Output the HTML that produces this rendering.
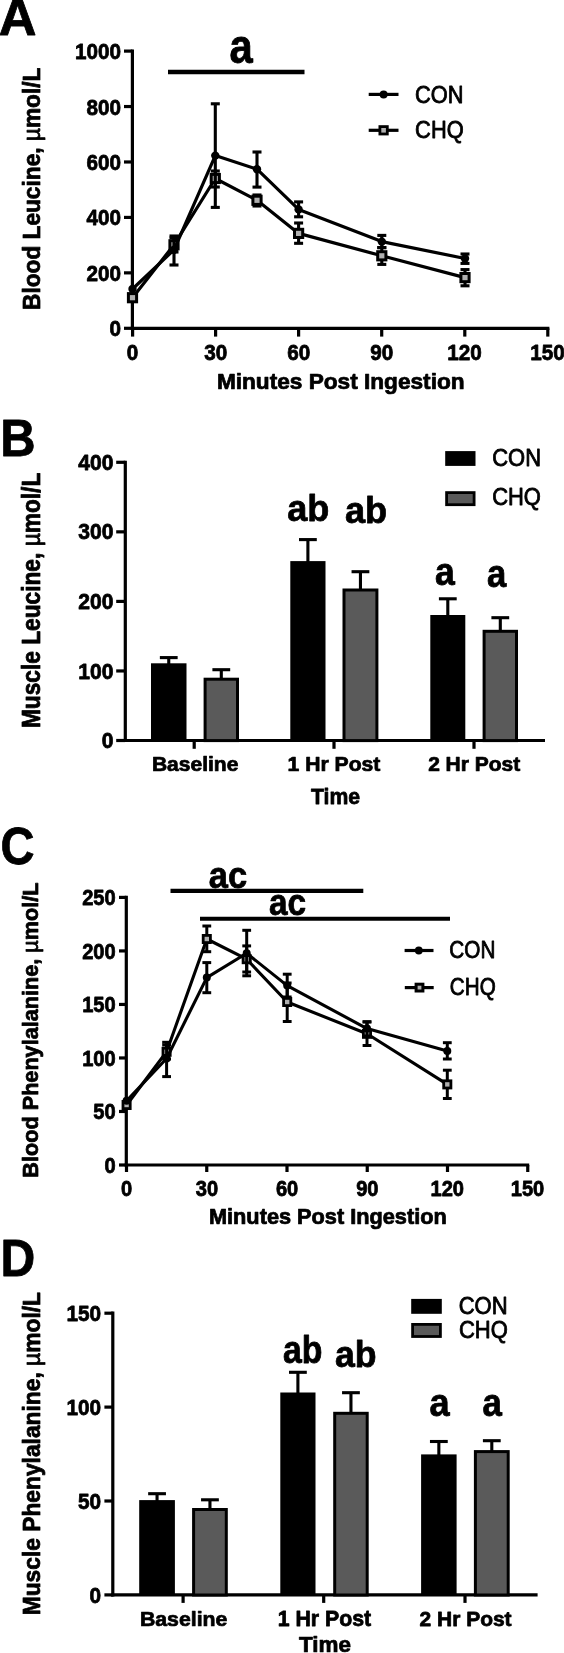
<!DOCTYPE html>
<html><head><meta charset="utf-8"><title>Figure</title>
<style>
html,body{margin:0;padding:0;background:#fff;}
body{width:564px;height:1653px;overflow:hidden;font-family:"Liberation Sans",sans-serif;}
svg{display:block;will-change:transform;filter:grayscale(1);}
svg text{font-family:"Liberation Sans",sans-serif;fill:#000;}
</style></head><body>
<svg width="564" height="1653" viewBox="0 0 564 1653">
<rect x="0" y="0" width="564" height="1653" fill="#fff"/>
<text transform="translate(-1.23 35.00) scale(0.5231 0.5207)" font-size="100" stroke="#000" stroke-linejoin="round" xml:space="preserve"><tspan font-weight="bold" stroke-width="1.44">A</tspan></text>
<line x1="132.40" y1="49.50" x2="132.40" y2="329.90" stroke="#000" stroke-width="3.2" stroke-linecap="butt"/>
<line x1="130.80" y1="328.30" x2="549.40" y2="328.30" stroke="#000" stroke-width="3.2" stroke-linecap="butt"/>
<text transform="translate(74.93 58.90) scale(0.2068 0.2189)" font-size="100" stroke="#000" stroke-linejoin="round" xml:space="preserve"><tspan font-weight="bold" stroke-width="3.52">1000</tspan></text>
<line x1="124.00" y1="51.10" x2="132.40" y2="51.10" stroke="#000" stroke-width="3.2" stroke-linecap="butt"/>
<line x1="124.00" y1="106.54" x2="132.40" y2="106.54" stroke="#000" stroke-width="3.2" stroke-linecap="butt"/>
<text transform="translate(86.51 114.54) scale(0.2068 0.2175)" font-size="100" stroke="#000" stroke-linejoin="round" xml:space="preserve"><tspan font-weight="bold" stroke-width="3.53">800</tspan></text>
<line x1="124.00" y1="161.98" x2="132.40" y2="161.98" stroke="#000" stroke-width="3.2" stroke-linecap="butt"/>
<text transform="translate(86.51 169.98) scale(0.2068 0.2175)" font-size="100" stroke="#000" stroke-linejoin="round" xml:space="preserve"><tspan font-weight="bold" stroke-width="3.53">600</tspan></text>
<line x1="124.00" y1="217.42" x2="132.40" y2="217.42" stroke="#000" stroke-width="3.2" stroke-linecap="butt"/>
<text transform="translate(86.51 225.42) scale(0.2068 0.2175)" font-size="100" stroke="#000" stroke-linejoin="round" xml:space="preserve"><tspan font-weight="bold" stroke-width="3.53">400</tspan></text>
<line x1="124.00" y1="272.86" x2="132.40" y2="272.86" stroke="#000" stroke-width="3.2" stroke-linecap="butt"/>
<text transform="translate(86.51 280.86) scale(0.2068 0.2175)" font-size="100" stroke="#000" stroke-linejoin="round" xml:space="preserve"><tspan font-weight="bold" stroke-width="3.53">200</tspan></text>
<line x1="124.00" y1="328.30" x2="132.40" y2="328.30" stroke="#000" stroke-width="3.2" stroke-linecap="butt"/>
<text transform="translate(109.47 336.30) scale(0.2068 0.2175)" font-size="100" stroke="#000" stroke-linejoin="round" xml:space="preserve"><tspan font-weight="bold" stroke-width="3.53">0</tspan></text>
<line x1="132.60" y1="328.30" x2="132.60" y2="336.60" stroke="#000" stroke-width="3.2" stroke-linecap="butt"/>
<text transform="translate(126.86 359.90) scale(0.2068 0.2175)" font-size="100" stroke="#000" stroke-linejoin="round" xml:space="preserve"><tspan font-weight="bold" stroke-width="3.53">0</tspan></text>
<line x1="215.60" y1="328.30" x2="215.60" y2="336.60" stroke="#000" stroke-width="3.2" stroke-linecap="butt"/>
<text transform="translate(204.28 359.90) scale(0.2068 0.2175)" font-size="100" stroke="#000" stroke-linejoin="round" xml:space="preserve"><tspan font-weight="bold" stroke-width="3.53">30</tspan></text>
<line x1="298.60" y1="328.30" x2="298.60" y2="336.60" stroke="#000" stroke-width="3.2" stroke-linecap="butt"/>
<text transform="translate(287.17 359.90) scale(0.2068 0.2175)" font-size="100" stroke="#000" stroke-linejoin="round" xml:space="preserve"><tspan font-weight="bold" stroke-width="3.53">60</tspan></text>
<line x1="381.70" y1="328.30" x2="381.70" y2="336.60" stroke="#000" stroke-width="3.2" stroke-linecap="butt"/>
<text transform="translate(370.27 359.90) scale(0.2068 0.2175)" font-size="100" stroke="#000" stroke-linejoin="round" xml:space="preserve"><tspan font-weight="bold" stroke-width="3.53">90</tspan></text>
<line x1="464.80" y1="328.30" x2="464.80" y2="336.60" stroke="#000" stroke-width="3.2" stroke-linecap="butt"/>
<text transform="translate(447.32 359.90) scale(0.2068 0.2175)" font-size="100" stroke="#000" stroke-linejoin="round" xml:space="preserve"><tspan font-weight="bold" stroke-width="3.53">120</tspan></text>
<line x1="547.80" y1="328.30" x2="547.80" y2="336.60" stroke="#000" stroke-width="3.2" stroke-linecap="butt"/>
<text transform="translate(530.32 359.90) scale(0.2068 0.2175)" font-size="100" stroke="#000" stroke-linejoin="round" xml:space="preserve"><tspan font-weight="bold" stroke-width="3.53">150</tspan></text>
<text transform="translate(216.90 388.90) scale(0.2265 0.2169)" font-size="100" stroke="#000" stroke-linejoin="round" xml:space="preserve"><tspan font-weight="bold" stroke-width="3.38">Minutes Post Ingestion</tspan></text>
<text transform="translate(39.90 310.00) rotate(-90) scale(0.2270 0.2321)" font-size="100" stroke="#000" stroke-linejoin="round" xml:space="preserve"><tspan font-weight="bold" stroke-width="3.27">Blood Leucine, </tspan><tspan font-weight="normal" stroke-width="3.49">&#181;</tspan><tspan font-weight="bold" stroke-width="3.27">mol/L</tspan></text>
<line x1="168.00" y1="72.00" x2="304.50" y2="72.00" stroke="#000" stroke-width="4.3" stroke-linecap="butt"/>
<text transform="translate(229.62 63.45) scale(0.4178 0.4718)" font-size="100" stroke="#000" stroke-linejoin="round" xml:space="preserve"><tspan font-weight="bold" stroke-width="1.69">a</tspan></text>
<line x1="368.70" y1="94.40" x2="398.50" y2="94.40" stroke="#000" stroke-width="3.2" stroke-linecap="butt"/>
<circle cx="383.6" cy="94.4" r="4.0" fill="#000"/>
<line x1="368.70" y1="130.30" x2="398.50" y2="130.30" stroke="#000" stroke-width="3.2" stroke-linecap="butt"/>
<rect x="379.90" y="126.60" width="7.40" height="7.40" fill="#b0b0b0" stroke="#000" stroke-width="2.8"/>
<text transform="translate(415.11 102.80) scale(0.2182 0.2400)" font-size="100" stroke="#000" stroke-linejoin="round" xml:space="preserve"><tspan font-weight="normal" stroke-width="3.49">CON</tspan></text>
<text transform="translate(415.11 137.60) scale(0.2184 0.2400)" font-size="100" stroke="#000" stroke-linejoin="round" xml:space="preserve"><tspan font-weight="normal" stroke-width="3.49">CHQ</tspan></text>
<polyline fill="none" stroke="#000" stroke-width="3.2" stroke-linejoin="round" points="132.5,297.7 174,244.8 215.3,178.5 257,200.3 298.6,233.4 381.8,255.8 465,277.6"/>
<line x1="174.00" y1="238.00" x2="174.00" y2="252.00" stroke="#000" stroke-width="3.1" stroke-linecap="butt"/>
<line x1="169.50" y1="238.00" x2="178.50" y2="238.00" stroke="#000" stroke-width="3.1" stroke-linecap="butt"/>
<line x1="169.50" y1="252.00" x2="178.50" y2="252.00" stroke="#000" stroke-width="3.1" stroke-linecap="butt"/>
<line x1="215.30" y1="171.00" x2="215.30" y2="187.00" stroke="#000" stroke-width="3.1" stroke-linecap="butt"/>
<line x1="210.80" y1="171.00" x2="219.80" y2="171.00" stroke="#000" stroke-width="3.1" stroke-linecap="butt"/>
<line x1="210.80" y1="187.00" x2="219.80" y2="187.00" stroke="#000" stroke-width="3.1" stroke-linecap="butt"/>
<line x1="257.00" y1="195.00" x2="257.00" y2="206.00" stroke="#000" stroke-width="3.1" stroke-linecap="butt"/>
<line x1="252.50" y1="195.00" x2="261.50" y2="195.00" stroke="#000" stroke-width="3.1" stroke-linecap="butt"/>
<line x1="252.50" y1="206.00" x2="261.50" y2="206.00" stroke="#000" stroke-width="3.1" stroke-linecap="butt"/>
<line x1="298.60" y1="223.00" x2="298.60" y2="243.30" stroke="#000" stroke-width="3.1" stroke-linecap="butt"/>
<line x1="294.10" y1="223.00" x2="303.10" y2="223.00" stroke="#000" stroke-width="3.1" stroke-linecap="butt"/>
<line x1="294.10" y1="243.30" x2="303.10" y2="243.30" stroke="#000" stroke-width="3.1" stroke-linecap="butt"/>
<line x1="381.80" y1="247.60" x2="381.80" y2="264.40" stroke="#000" stroke-width="3.1" stroke-linecap="butt"/>
<line x1="377.30" y1="247.60" x2="386.30" y2="247.60" stroke="#000" stroke-width="3.1" stroke-linecap="butt"/>
<line x1="377.30" y1="264.40" x2="386.30" y2="264.40" stroke="#000" stroke-width="3.1" stroke-linecap="butt"/>
<line x1="465.00" y1="269.60" x2="465.00" y2="285.80" stroke="#000" stroke-width="3.1" stroke-linecap="butt"/>
<line x1="460.50" y1="269.60" x2="469.50" y2="269.60" stroke="#000" stroke-width="3.1" stroke-linecap="butt"/>
<line x1="460.50" y1="285.80" x2="469.50" y2="285.80" stroke="#000" stroke-width="3.1" stroke-linecap="butt"/>
<rect x="128.40" y="293.60" width="8.20" height="8.20" fill="#b0b0b0" stroke="#000" stroke-width="3"/>
<rect x="169.90" y="240.70" width="8.20" height="8.20" fill="#b0b0b0" stroke="#000" stroke-width="3"/>
<rect x="211.20" y="174.40" width="8.20" height="8.20" fill="#b0b0b0" stroke="#000" stroke-width="3"/>
<rect x="252.90" y="196.20" width="8.20" height="8.20" fill="#b0b0b0" stroke="#000" stroke-width="3"/>
<rect x="294.50" y="229.30" width="8.20" height="8.20" fill="#b0b0b0" stroke="#000" stroke-width="3"/>
<rect x="377.70" y="251.70" width="8.20" height="8.20" fill="#b0b0b0" stroke="#000" stroke-width="3"/>
<rect x="460.90" y="273.50" width="8.20" height="8.20" fill="#b0b0b0" stroke="#000" stroke-width="3"/>
<polyline fill="none" stroke="#000" stroke-width="3.2" stroke-linejoin="round" points="132.5,289 174,249.8 215.3,155.6 257,169.2 298.6,209.4 381.8,241.6 465,258.5"/>
<line x1="174.00" y1="236.00" x2="174.00" y2="265.00" stroke="#000" stroke-width="3.1" stroke-linecap="butt"/>
<line x1="169.50" y1="236.00" x2="178.50" y2="236.00" stroke="#000" stroke-width="3.1" stroke-linecap="butt"/>
<line x1="169.50" y1="265.00" x2="178.50" y2="265.00" stroke="#000" stroke-width="3.1" stroke-linecap="butt"/>
<line x1="215.30" y1="103.80" x2="215.30" y2="207.40" stroke="#000" stroke-width="3.1" stroke-linecap="butt"/>
<line x1="210.80" y1="103.80" x2="219.80" y2="103.80" stroke="#000" stroke-width="3.1" stroke-linecap="butt"/>
<line x1="210.80" y1="207.40" x2="219.80" y2="207.40" stroke="#000" stroke-width="3.1" stroke-linecap="butt"/>
<line x1="257.00" y1="152.00" x2="257.00" y2="187.10" stroke="#000" stroke-width="3.1" stroke-linecap="butt"/>
<line x1="252.50" y1="152.00" x2="261.50" y2="152.00" stroke="#000" stroke-width="3.1" stroke-linecap="butt"/>
<line x1="252.50" y1="187.10" x2="261.50" y2="187.10" stroke="#000" stroke-width="3.1" stroke-linecap="butt"/>
<line x1="298.60" y1="201.90" x2="298.60" y2="216.80" stroke="#000" stroke-width="3.1" stroke-linecap="butt"/>
<line x1="294.10" y1="201.90" x2="303.10" y2="201.90" stroke="#000" stroke-width="3.1" stroke-linecap="butt"/>
<line x1="294.10" y1="216.80" x2="303.10" y2="216.80" stroke="#000" stroke-width="3.1" stroke-linecap="butt"/>
<line x1="381.80" y1="235.40" x2="381.80" y2="247.60" stroke="#000" stroke-width="3.1" stroke-linecap="butt"/>
<line x1="377.30" y1="235.40" x2="386.30" y2="235.40" stroke="#000" stroke-width="3.1" stroke-linecap="butt"/>
<line x1="377.30" y1="247.60" x2="386.30" y2="247.60" stroke="#000" stroke-width="3.1" stroke-linecap="butt"/>
<line x1="465.00" y1="254.00" x2="465.00" y2="263.40" stroke="#000" stroke-width="3.1" stroke-linecap="butt"/>
<line x1="460.50" y1="254.00" x2="469.50" y2="254.00" stroke="#000" stroke-width="3.1" stroke-linecap="butt"/>
<line x1="460.50" y1="263.40" x2="469.50" y2="263.40" stroke="#000" stroke-width="3.1" stroke-linecap="butt"/>
<circle cx="132.5" cy="289" r="4.2" fill="#000"/>
<circle cx="174" cy="249.8" r="4.2" fill="#000"/>
<circle cx="215.3" cy="155.6" r="4.2" fill="#000"/>
<circle cx="257" cy="169.2" r="4.2" fill="#000"/>
<circle cx="298.6" cy="209.4" r="4.2" fill="#000"/>
<circle cx="381.8" cy="241.6" r="4.2" fill="#000"/>
<circle cx="465" cy="258.5" r="4.2" fill="#000"/>
<text transform="translate(0.29 455.80) scale(0.4893 0.5163)" font-size="100" stroke="#000" stroke-linejoin="round" xml:space="preserve"><tspan font-weight="bold" stroke-width="1.49">B</tspan></text>
<line x1="125.30" y1="460.70" x2="125.30" y2="742.10" stroke="#000" stroke-width="3.2" stroke-linecap="butt"/>
<line x1="123.70" y1="740.50" x2="545.00" y2="740.50" stroke="#000" stroke-width="3.2" stroke-linecap="butt"/>
<text transform="translate(78.36 469.80) scale(0.2109 0.2118)" font-size="100" stroke="#000" stroke-linejoin="round" xml:space="preserve"><tspan font-weight="bold" stroke-width="3.55">400</tspan></text>
<line x1="116.20" y1="462.30" x2="125.30" y2="462.30" stroke="#000" stroke-width="3.2" stroke-linecap="butt"/>
<line x1="116.20" y1="531.85" x2="125.30" y2="531.85" stroke="#000" stroke-width="3.2" stroke-linecap="butt"/>
<text transform="translate(78.36 539.45) scale(0.2109 0.2118)" font-size="100" stroke="#000" stroke-linejoin="round" xml:space="preserve"><tspan font-weight="bold" stroke-width="3.55">300</tspan></text>
<line x1="116.20" y1="601.40" x2="125.30" y2="601.40" stroke="#000" stroke-width="3.2" stroke-linecap="butt"/>
<text transform="translate(78.36 609.00) scale(0.2109 0.2118)" font-size="100" stroke="#000" stroke-linejoin="round" xml:space="preserve"><tspan font-weight="bold" stroke-width="3.55">200</tspan></text>
<line x1="116.20" y1="670.95" x2="125.30" y2="670.95" stroke="#000" stroke-width="3.2" stroke-linecap="butt"/>
<text transform="translate(78.36 678.55) scale(0.2109 0.2118)" font-size="100" stroke="#000" stroke-linejoin="round" xml:space="preserve"><tspan font-weight="bold" stroke-width="3.55">100</tspan></text>
<line x1="116.20" y1="740.50" x2="125.30" y2="740.50" stroke="#000" stroke-width="3.2" stroke-linecap="butt"/>
<text transform="translate(101.77 748.10) scale(0.2109 0.2118)" font-size="100" stroke="#000" stroke-linejoin="round" xml:space="preserve"><tspan font-weight="bold" stroke-width="3.55">0</tspan></text>
<line x1="194.20" y1="740.50" x2="194.20" y2="748.80" stroke="#000" stroke-width="3.2" stroke-linecap="butt"/>
<line x1="334.00" y1="740.50" x2="334.00" y2="748.80" stroke="#000" stroke-width="3.2" stroke-linecap="butt"/>
<line x1="474.00" y1="740.50" x2="474.00" y2="748.80" stroke="#000" stroke-width="3.2" stroke-linecap="butt"/>
<text transform="translate(151.91 771.40) scale(0.2103 0.1962)" font-size="100" stroke="#000" stroke-linejoin="round" xml:space="preserve"><tspan font-weight="bold" stroke-width="3.69">Baseline</tspan></text>
<text transform="translate(287.60 771.40) scale(0.2113 0.2004)" font-size="100" stroke="#000" stroke-linejoin="round" xml:space="preserve"><tspan font-weight="bold" stroke-width="3.64">1 Hr Post</tspan></text>
<text transform="translate(428.14 771.40) scale(0.2098 0.1975)" font-size="100" stroke="#000" stroke-linejoin="round" xml:space="preserve"><tspan font-weight="bold" stroke-width="3.68">2 Hr Post</tspan></text>
<text transform="translate(311.06 803.70) scale(0.2121 0.2252)" font-size="100" stroke="#000" stroke-linejoin="round" xml:space="preserve"><tspan font-weight="bold" stroke-width="3.43">Time</tspan></text>
<text transform="translate(40.40 728.10) rotate(-90) scale(0.2272 0.2500)" font-size="100" stroke="#000" stroke-linejoin="round" xml:space="preserve"><tspan font-weight="bold" stroke-width="3.14">Muscle Leucine, </tspan><tspan font-weight="normal" stroke-width="3.35">&#181;</tspan><tspan font-weight="bold" stroke-width="3.14">mol/L</tspan></text>
<line x1="168.75" y1="657.60" x2="168.75" y2="664.30" stroke="#000" stroke-width="3.1" stroke-linecap="butt"/>
<line x1="159.85" y1="657.60" x2="177.65" y2="657.60" stroke="#000" stroke-width="3.1" stroke-linecap="butt"/>
<rect x="151.00" y="663.30" width="35.50" height="77.20" fill="#000"/>
<line x1="221.30" y1="669.70" x2="221.30" y2="678.70" stroke="#000" stroke-width="3.1" stroke-linecap="butt"/>
<line x1="212.40" y1="669.70" x2="230.20" y2="669.70" stroke="#000" stroke-width="3.1" stroke-linecap="butt"/>
<rect x="205.10" y="679.20" width="32.40" height="61.40" fill="#5a5a5a" stroke="#000" stroke-width="3"/>
<line x1="307.90" y1="539.60" x2="307.90" y2="562.10" stroke="#000" stroke-width="3.1" stroke-linecap="butt"/>
<line x1="299.00" y1="539.60" x2="316.80" y2="539.60" stroke="#000" stroke-width="3.1" stroke-linecap="butt"/>
<rect x="290.30" y="561.10" width="35.20" height="179.40" fill="#000"/>
<line x1="360.45" y1="571.70" x2="360.45" y2="589.50" stroke="#000" stroke-width="3.1" stroke-linecap="butt"/>
<line x1="351.55" y1="571.70" x2="369.35" y2="571.70" stroke="#000" stroke-width="3.1" stroke-linecap="butt"/>
<rect x="344.00" y="590.00" width="32.90" height="150.60" fill="#5a5a5a" stroke="#000" stroke-width="3"/>
<line x1="447.80" y1="598.80" x2="447.80" y2="616.00" stroke="#000" stroke-width="3.1" stroke-linecap="butt"/>
<line x1="438.90" y1="598.80" x2="456.70" y2="598.80" stroke="#000" stroke-width="3.1" stroke-linecap="butt"/>
<rect x="430.30" y="615.00" width="35.00" height="125.50" fill="#000"/>
<line x1="500.30" y1="617.70" x2="500.30" y2="630.80" stroke="#000" stroke-width="3.1" stroke-linecap="butt"/>
<line x1="491.40" y1="617.70" x2="509.20" y2="617.70" stroke="#000" stroke-width="3.1" stroke-linecap="butt"/>
<rect x="484.10" y="631.30" width="32.40" height="109.30" fill="#5a5a5a" stroke="#000" stroke-width="3"/>
<text transform="translate(287.19 521.40) scale(0.3612 0.3645)" font-size="100" stroke="#000" stroke-linejoin="round" xml:space="preserve"><tspan font-weight="bold" stroke-width="2.07">ab</tspan></text>
<text transform="translate(344.99 522.90) scale(0.3621 0.3659)" font-size="100" stroke="#000" stroke-linejoin="round" xml:space="preserve"><tspan font-weight="bold" stroke-width="2.06">ab</tspan></text>
<text transform="translate(434.91 584.94) scale(0.3561 0.3882)" font-size="100" stroke="#000" stroke-linejoin="round" xml:space="preserve"><tspan font-weight="bold" stroke-width="2.02">a</tspan></text>
<text transform="translate(487.03 587.03) scale(0.3467 0.3918)" font-size="100" stroke="#000" stroke-linejoin="round" xml:space="preserve"><tspan font-weight="bold" stroke-width="2.03">a</tspan></text>
<rect x="445.20" y="451.10" width="30.30" height="14.80" fill="#000"/>
<rect x="446.60" y="492.60" width="27.50" height="12.10" fill="#5a5a5a" stroke="#000" stroke-width="2.8"/>
<text transform="translate(492.20 465.60) scale(0.2196 0.2329)" font-size="100" stroke="#000" stroke-linejoin="round" xml:space="preserve"><tspan font-weight="normal" stroke-width="3.54">CON</tspan></text>
<text transform="translate(492.20 505.40) scale(0.2193 0.2329)" font-size="100" stroke="#000" stroke-linejoin="round" xml:space="preserve"><tspan font-weight="normal" stroke-width="3.54">CHQ</tspan></text>
<text transform="translate(0.59 864.20) scale(0.4710 0.5232)" font-size="100" stroke="#000" stroke-linejoin="round" xml:space="preserve"><tspan font-weight="bold" stroke-width="1.51">C</tspan></text>
<line x1="126.30" y1="895.80" x2="126.30" y2="1166.60" stroke="#000" stroke-width="3.2" stroke-linecap="butt"/>
<line x1="124.70" y1="1165.00" x2="529.20" y2="1165.00" stroke="#000" stroke-width="3.2" stroke-linecap="butt"/>
<text transform="translate(82.17 905.40) scale(0.2009 0.2118)" font-size="100" stroke="#000" stroke-linejoin="round" xml:space="preserve"><tspan font-weight="bold" stroke-width="3.63">250</tspan></text>
<line x1="119.00" y1="897.40" x2="126.30" y2="897.40" stroke="#000" stroke-width="3.2" stroke-linecap="butt"/>
<line x1="119.00" y1="950.92" x2="126.30" y2="950.92" stroke="#000" stroke-width="3.2" stroke-linecap="butt"/>
<text transform="translate(82.17 958.92) scale(0.2009 0.2118)" font-size="100" stroke="#000" stroke-linejoin="round" xml:space="preserve"><tspan font-weight="bold" stroke-width="3.63">200</tspan></text>
<line x1="119.00" y1="1004.44" x2="126.30" y2="1004.44" stroke="#000" stroke-width="3.2" stroke-linecap="butt"/>
<text transform="translate(82.17 1012.44) scale(0.2009 0.2118)" font-size="100" stroke="#000" stroke-linejoin="round" xml:space="preserve"><tspan font-weight="bold" stroke-width="3.63">150</tspan></text>
<line x1="119.00" y1="1057.96" x2="126.30" y2="1057.96" stroke="#000" stroke-width="3.2" stroke-linecap="butt"/>
<text transform="translate(82.17 1065.96) scale(0.2009 0.2118)" font-size="100" stroke="#000" stroke-linejoin="round" xml:space="preserve"><tspan font-weight="bold" stroke-width="3.63">100</tspan></text>
<line x1="119.00" y1="1111.48" x2="126.30" y2="1111.48" stroke="#000" stroke-width="3.2" stroke-linecap="butt"/>
<text transform="translate(93.32 1119.48) scale(0.2009 0.2118)" font-size="100" stroke="#000" stroke-linejoin="round" xml:space="preserve"><tspan font-weight="bold" stroke-width="3.63">50</tspan></text>
<line x1="119.00" y1="1165.00" x2="126.30" y2="1165.00" stroke="#000" stroke-width="3.2" stroke-linecap="butt"/>
<text transform="translate(104.48 1173.00) scale(0.2009 0.2118)" font-size="100" stroke="#000" stroke-linejoin="round" xml:space="preserve"><tspan font-weight="bold" stroke-width="3.63">0</tspan></text>
<line x1="126.50" y1="1165.00" x2="126.50" y2="1172.00" stroke="#000" stroke-width="3.2" stroke-linecap="butt"/>
<text transform="translate(120.92 1195.70) scale(0.2009 0.2118)" font-size="100" stroke="#000" stroke-linejoin="round" xml:space="preserve"><tspan font-weight="bold" stroke-width="3.63">0</tspan></text>
<line x1="206.75" y1="1165.00" x2="206.75" y2="1172.00" stroke="#000" stroke-width="3.2" stroke-linecap="butt"/>
<text transform="translate(195.75 1195.70) scale(0.2009 0.2118)" font-size="100" stroke="#000" stroke-linejoin="round" xml:space="preserve"><tspan font-weight="bold" stroke-width="3.63">30</tspan></text>
<line x1="287.00" y1="1165.00" x2="287.00" y2="1172.00" stroke="#000" stroke-width="3.2" stroke-linecap="butt"/>
<text transform="translate(275.90 1195.70) scale(0.2009 0.2118)" font-size="100" stroke="#000" stroke-linejoin="round" xml:space="preserve"><tspan font-weight="bold" stroke-width="3.63">60</tspan></text>
<line x1="367.25" y1="1165.00" x2="367.25" y2="1172.00" stroke="#000" stroke-width="3.2" stroke-linecap="butt"/>
<text transform="translate(356.15 1195.70) scale(0.2009 0.2118)" font-size="100" stroke="#000" stroke-linejoin="round" xml:space="preserve"><tspan font-weight="bold" stroke-width="3.63">90</tspan></text>
<line x1="447.50" y1="1165.00" x2="447.50" y2="1172.00" stroke="#000" stroke-width="3.2" stroke-linecap="butt"/>
<text transform="translate(430.52 1195.70) scale(0.2009 0.2118)" font-size="100" stroke="#000" stroke-linejoin="round" xml:space="preserve"><tspan font-weight="bold" stroke-width="3.63">120</tspan></text>
<line x1="527.75" y1="1165.00" x2="527.75" y2="1172.00" stroke="#000" stroke-width="3.2" stroke-linecap="butt"/>
<text transform="translate(510.77 1195.70) scale(0.2009 0.2118)" font-size="100" stroke="#000" stroke-linejoin="round" xml:space="preserve"><tspan font-weight="bold" stroke-width="3.63">150</tspan></text>
<text transform="translate(208.96 1223.80) scale(0.2174 0.2128)" font-size="100" stroke="#000" stroke-linejoin="round" xml:space="preserve"><tspan font-weight="bold" stroke-width="3.49">Minutes Post Ingestion</tspan></text>
<text transform="translate(37.70 1177.63) rotate(-90) scale(0.2165 0.2155)" font-size="100" stroke="#000" stroke-linejoin="round" xml:space="preserve"><tspan font-weight="bold" stroke-width="3.47">Blood Phenylalanine, </tspan><tspan font-weight="normal" stroke-width="3.70">&#181;</tspan><tspan font-weight="bold" stroke-width="3.47">mol/L</tspan></text>
<line x1="170.50" y1="890.90" x2="363.30" y2="890.90" stroke="#000" stroke-width="4.2" stroke-linecap="butt"/>
<line x1="200.00" y1="918.80" x2="450.00" y2="918.80" stroke="#000" stroke-width="4.1" stroke-linecap="butt"/>
<text transform="translate(208.74 887.75) scale(0.3443 0.3700)" font-size="100" stroke="#000" stroke-linejoin="round" xml:space="preserve"><tspan font-weight="bold" stroke-width="2.10">ac</tspan></text>
<text transform="translate(268.97 915.06) scale(0.3338 0.3664)" font-size="100" stroke="#000" stroke-linejoin="round" xml:space="preserve"><tspan font-weight="bold" stroke-width="2.14">ac</tspan></text>
<line x1="404.60" y1="950.50" x2="433.50" y2="950.50" stroke="#000" stroke-width="3.2" stroke-linecap="butt"/>
<circle cx="418.8" cy="950.5" r="3.9" fill="#000"/>
<line x1="404.80" y1="987.60" x2="433.70" y2="987.60" stroke="#000" stroke-width="3.2" stroke-linecap="butt"/>
<rect x="416.10" y="984.20" width="6.80" height="6.80" fill="#b0b0b0" stroke="#000" stroke-width="3.0"/>
<text transform="translate(449.36 958.00) scale(0.2072 0.2414)" font-size="100" stroke="#000" stroke-linejoin="round" xml:space="preserve"><tspan font-weight="normal" stroke-width="3.57">CON</tspan></text>
<text transform="translate(449.87 995.30) scale(0.2066 0.2443)" font-size="100" stroke="#000" stroke-linejoin="round" xml:space="preserve"><tspan font-weight="normal" stroke-width="3.55">CHQ</tspan></text>
<polyline fill="none" stroke="#000" stroke-width="3.1" stroke-linejoin="round" points="126.6,1105 166.6,1051.8 206.8,939 246.7,959.2 287.2,1002 367,1033.8 447.3,1084.4"/>
<line x1="166.60" y1="1045.00" x2="166.60" y2="1059.00" stroke="#000" stroke-width="3.0" stroke-linecap="butt"/>
<line x1="162.20" y1="1045.00" x2="171.00" y2="1045.00" stroke="#000" stroke-width="3.0" stroke-linecap="butt"/>
<line x1="162.20" y1="1059.00" x2="171.00" y2="1059.00" stroke="#000" stroke-width="3.0" stroke-linecap="butt"/>
<line x1="206.80" y1="926.00" x2="206.80" y2="951.70" stroke="#000" stroke-width="3.0" stroke-linecap="butt"/>
<line x1="202.40" y1="926.00" x2="211.20" y2="926.00" stroke="#000" stroke-width="3.0" stroke-linecap="butt"/>
<line x1="202.40" y1="951.70" x2="211.20" y2="951.70" stroke="#000" stroke-width="3.0" stroke-linecap="butt"/>
<line x1="246.70" y1="945.90" x2="246.70" y2="972.00" stroke="#000" stroke-width="3.0" stroke-linecap="butt"/>
<line x1="242.30" y1="945.90" x2="251.10" y2="945.90" stroke="#000" stroke-width="3.0" stroke-linecap="butt"/>
<line x1="242.30" y1="972.00" x2="251.10" y2="972.00" stroke="#000" stroke-width="3.0" stroke-linecap="butt"/>
<line x1="287.20" y1="983.00" x2="287.20" y2="1021.50" stroke="#000" stroke-width="3.0" stroke-linecap="butt"/>
<line x1="282.80" y1="983.00" x2="291.60" y2="983.00" stroke="#000" stroke-width="3.0" stroke-linecap="butt"/>
<line x1="282.80" y1="1021.50" x2="291.60" y2="1021.50" stroke="#000" stroke-width="3.0" stroke-linecap="butt"/>
<line x1="367.00" y1="1022.00" x2="367.00" y2="1045.50" stroke="#000" stroke-width="3.0" stroke-linecap="butt"/>
<line x1="362.60" y1="1022.00" x2="371.40" y2="1022.00" stroke="#000" stroke-width="3.0" stroke-linecap="butt"/>
<line x1="362.60" y1="1045.50" x2="371.40" y2="1045.50" stroke="#000" stroke-width="3.0" stroke-linecap="butt"/>
<line x1="447.30" y1="1070.20" x2="447.30" y2="1098.50" stroke="#000" stroke-width="3.0" stroke-linecap="butt"/>
<line x1="442.90" y1="1070.20" x2="451.70" y2="1070.20" stroke="#000" stroke-width="3.0" stroke-linecap="butt"/>
<line x1="442.90" y1="1098.50" x2="451.70" y2="1098.50" stroke="#000" stroke-width="3.0" stroke-linecap="butt"/>
<rect x="123.00" y="1101.40" width="7.20" height="7.20" fill="#b0b0b0" stroke="#000" stroke-width="2.8"/>
<rect x="163.00" y="1048.20" width="7.20" height="7.20" fill="#b0b0b0" stroke="#000" stroke-width="2.8"/>
<rect x="203.20" y="935.40" width="7.20" height="7.20" fill="#b0b0b0" stroke="#000" stroke-width="2.8"/>
<rect x="243.10" y="955.60" width="7.20" height="7.20" fill="#b0b0b0" stroke="#000" stroke-width="2.8"/>
<rect x="283.60" y="998.40" width="7.20" height="7.20" fill="#b0b0b0" stroke="#000" stroke-width="2.8"/>
<rect x="363.40" y="1030.20" width="7.20" height="7.20" fill="#b0b0b0" stroke="#000" stroke-width="2.8"/>
<rect x="443.70" y="1080.80" width="7.20" height="7.20" fill="#b0b0b0" stroke="#000" stroke-width="2.8"/>
<polyline fill="none" stroke="#000" stroke-width="3.1" stroke-linejoin="round" points="126.6,1100.8 166.6,1058.5 206.8,977.6 246.7,953.3 287.2,985.6 367,1028.6 447.3,1050.9"/>
<line x1="166.60" y1="1042.30" x2="166.60" y2="1076.60" stroke="#000" stroke-width="3.0" stroke-linecap="butt"/>
<line x1="162.20" y1="1042.30" x2="171.00" y2="1042.30" stroke="#000" stroke-width="3.0" stroke-linecap="butt"/>
<line x1="162.20" y1="1076.60" x2="171.00" y2="1076.60" stroke="#000" stroke-width="3.0" stroke-linecap="butt"/>
<line x1="206.80" y1="962.60" x2="206.80" y2="992.70" stroke="#000" stroke-width="3.0" stroke-linecap="butt"/>
<line x1="202.40" y1="962.60" x2="211.20" y2="962.60" stroke="#000" stroke-width="3.0" stroke-linecap="butt"/>
<line x1="202.40" y1="992.70" x2="211.20" y2="992.70" stroke="#000" stroke-width="3.0" stroke-linecap="butt"/>
<line x1="246.70" y1="930.30" x2="246.70" y2="975.80" stroke="#000" stroke-width="3.0" stroke-linecap="butt"/>
<line x1="242.30" y1="930.30" x2="251.10" y2="930.30" stroke="#000" stroke-width="3.0" stroke-linecap="butt"/>
<line x1="242.30" y1="975.80" x2="251.10" y2="975.80" stroke="#000" stroke-width="3.0" stroke-linecap="butt"/>
<line x1="287.20" y1="974.20" x2="287.20" y2="997.00" stroke="#000" stroke-width="3.0" stroke-linecap="butt"/>
<line x1="282.80" y1="974.20" x2="291.60" y2="974.20" stroke="#000" stroke-width="3.0" stroke-linecap="butt"/>
<line x1="282.80" y1="997.00" x2="291.60" y2="997.00" stroke="#000" stroke-width="3.0" stroke-linecap="butt"/>
<line x1="367.00" y1="1021.70" x2="367.00" y2="1036.00" stroke="#000" stroke-width="3.0" stroke-linecap="butt"/>
<line x1="362.60" y1="1021.70" x2="371.40" y2="1021.70" stroke="#000" stroke-width="3.0" stroke-linecap="butt"/>
<line x1="362.60" y1="1036.00" x2="371.40" y2="1036.00" stroke="#000" stroke-width="3.0" stroke-linecap="butt"/>
<line x1="447.30" y1="1042.70" x2="447.30" y2="1059.00" stroke="#000" stroke-width="3.0" stroke-linecap="butt"/>
<line x1="442.90" y1="1042.70" x2="451.70" y2="1042.70" stroke="#000" stroke-width="3.0" stroke-linecap="butt"/>
<line x1="442.90" y1="1059.00" x2="451.70" y2="1059.00" stroke="#000" stroke-width="3.0" stroke-linecap="butt"/>
<circle cx="126.6" cy="1100.8" r="4.0" fill="#000"/>
<circle cx="166.6" cy="1058.5" r="4.0" fill="#000"/>
<circle cx="206.8" cy="977.6" r="4.0" fill="#000"/>
<circle cx="246.7" cy="953.3" r="4.0" fill="#000"/>
<circle cx="287.2" cy="985.6" r="4.0" fill="#000"/>
<circle cx="367" cy="1028.6" r="4.0" fill="#000"/>
<circle cx="447.3" cy="1050.9" r="4.0" fill="#000"/>
<text transform="translate(0.55 1276.40) scale(0.4805 0.5105)" font-size="100" stroke="#000" stroke-linejoin="round" xml:space="preserve"><tspan font-weight="bold" stroke-width="1.51">D</tspan></text>
<line x1="112.80" y1="1311.60" x2="112.80" y2="1596.50" stroke="#000" stroke-width="3.2" stroke-linecap="butt"/>
<line x1="111.20" y1="1594.90" x2="537.60" y2="1594.90" stroke="#000" stroke-width="3.2" stroke-linecap="butt"/>
<text transform="translate(66.42 1320.80) scale(0.2080 0.2204)" font-size="100" stroke="#000" stroke-linejoin="round" xml:space="preserve"><tspan font-weight="bold" stroke-width="3.50">150</tspan></text>
<line x1="104.40" y1="1313.20" x2="112.80" y2="1313.20" stroke="#000" stroke-width="3.2" stroke-linecap="butt"/>
<line x1="104.40" y1="1407.10" x2="112.80" y2="1407.10" stroke="#000" stroke-width="3.2" stroke-linecap="butt"/>
<text transform="translate(66.42 1414.90) scale(0.2080 0.2204)" font-size="100" stroke="#000" stroke-linejoin="round" xml:space="preserve"><tspan font-weight="bold" stroke-width="3.50">100</tspan></text>
<line x1="104.40" y1="1501.00" x2="112.80" y2="1501.00" stroke="#000" stroke-width="3.2" stroke-linecap="butt"/>
<text transform="translate(77.97 1508.80) scale(0.2080 0.2204)" font-size="100" stroke="#000" stroke-linejoin="round" xml:space="preserve"><tspan font-weight="bold" stroke-width="3.50">50</tspan></text>
<line x1="104.40" y1="1594.90" x2="112.80" y2="1594.90" stroke="#000" stroke-width="3.2" stroke-linecap="butt"/>
<text transform="translate(89.51 1602.70) scale(0.2080 0.2204)" font-size="100" stroke="#000" stroke-linejoin="round" xml:space="preserve"><tspan font-weight="bold" stroke-width="3.50">0</tspan></text>
<line x1="183.10" y1="1594.90" x2="183.10" y2="1602.90" stroke="#000" stroke-width="3.2" stroke-linecap="butt"/>
<line x1="323.70" y1="1594.90" x2="323.70" y2="1602.90" stroke="#000" stroke-width="3.2" stroke-linecap="butt"/>
<line x1="465.00" y1="1594.90" x2="465.00" y2="1602.90" stroke="#000" stroke-width="3.2" stroke-linecap="butt"/>
<text transform="translate(139.89 1625.90) scale(0.2128 0.2045)" font-size="100" stroke="#000" stroke-linejoin="round" xml:space="preserve"><tspan font-weight="bold" stroke-width="3.59">Baseline</tspan></text>
<text transform="translate(277.69 1625.80) scale(0.2129 0.2134)" font-size="100" stroke="#000" stroke-linejoin="round" xml:space="preserve"><tspan font-weight="bold" stroke-width="3.52">1 Hr Post</tspan></text>
<text transform="translate(419.54 1625.80) scale(0.2098 0.2104)" font-size="100" stroke="#000" stroke-linejoin="round" xml:space="preserve"><tspan font-weight="bold" stroke-width="3.57">2 Hr Post</tspan></text>
<text transform="translate(299.05 1652.40) scale(0.2244 0.2141)" font-size="100" stroke="#000" stroke-linejoin="round" xml:space="preserve"><tspan font-weight="bold" stroke-width="3.42">Time</tspan></text>
<text transform="translate(40.30 1615.31) rotate(-90) scale(0.2279 0.2445)" font-size="100" stroke="#000" stroke-linejoin="round" xml:space="preserve"><tspan font-weight="bold" stroke-width="3.18">Muscle Phenylalanine, </tspan><tspan font-weight="normal" stroke-width="3.39">&#181;</tspan><tspan font-weight="bold" stroke-width="3.18">mol/L</tspan></text>
<line x1="157.05" y1="1493.70" x2="157.05" y2="1501.10" stroke="#000" stroke-width="3.1" stroke-linecap="butt"/>
<line x1="148.15" y1="1493.70" x2="165.95" y2="1493.70" stroke="#000" stroke-width="3.1" stroke-linecap="butt"/>
<rect x="139.20" y="1500.10" width="35.70" height="94.80" fill="#000"/>
<line x1="209.95" y1="1499.80" x2="209.95" y2="1509.00" stroke="#000" stroke-width="3.1" stroke-linecap="butt"/>
<line x1="201.05" y1="1499.80" x2="218.85" y2="1499.80" stroke="#000" stroke-width="3.1" stroke-linecap="butt"/>
<rect x="193.60" y="1509.50" width="32.70" height="85.50" fill="#5a5a5a" stroke="#000" stroke-width="3"/>
<line x1="297.90" y1="1372.30" x2="297.90" y2="1393.50" stroke="#000" stroke-width="3.1" stroke-linecap="butt"/>
<line x1="289.00" y1="1372.30" x2="306.80" y2="1372.30" stroke="#000" stroke-width="3.1" stroke-linecap="butt"/>
<rect x="280.30" y="1392.50" width="35.20" height="202.40" fill="#000"/>
<line x1="350.95" y1="1392.70" x2="350.95" y2="1412.80" stroke="#000" stroke-width="3.1" stroke-linecap="butt"/>
<line x1="342.05" y1="1392.70" x2="359.85" y2="1392.70" stroke="#000" stroke-width="3.1" stroke-linecap="butt"/>
<rect x="334.70" y="1413.30" width="32.50" height="181.70" fill="#5a5a5a" stroke="#000" stroke-width="3"/>
<line x1="438.85" y1="1441.50" x2="438.85" y2="1455.40" stroke="#000" stroke-width="3.1" stroke-linecap="butt"/>
<line x1="429.95" y1="1441.50" x2="447.75" y2="1441.50" stroke="#000" stroke-width="3.1" stroke-linecap="butt"/>
<rect x="421.10" y="1454.40" width="35.50" height="140.50" fill="#000"/>
<line x1="491.80" y1="1440.70" x2="491.80" y2="1451.10" stroke="#000" stroke-width="3.1" stroke-linecap="butt"/>
<line x1="482.90" y1="1440.70" x2="500.70" y2="1440.70" stroke="#000" stroke-width="3.1" stroke-linecap="butt"/>
<rect x="475.40" y="1451.60" width="32.80" height="143.40" fill="#5a5a5a" stroke="#000" stroke-width="3"/>
<text transform="translate(282.96 1363.20) scale(0.3384 0.3824)" font-size="100" stroke="#000" stroke-linejoin="round" xml:space="preserve"><tspan font-weight="bold" stroke-width="2.08">ab</tspan></text>
<text transform="translate(335.01 1366.50) scale(0.3566 0.3672)" font-size="100" stroke="#000" stroke-linejoin="round" xml:space="preserve"><tspan font-weight="bold" stroke-width="2.07">ab</tspan></text>
<text transform="translate(429.59 1416.03) scale(0.3617 0.3900)" font-size="100" stroke="#000" stroke-linejoin="round" xml:space="preserve"><tspan font-weight="bold" stroke-width="2.00">a</tspan></text>
<text transform="translate(482.43 1415.84) scale(0.3486 0.3864)" font-size="100" stroke="#000" stroke-linejoin="round" xml:space="preserve"><tspan font-weight="bold" stroke-width="2.04">a</tspan></text>
<rect x="411.20" y="1298.90" width="30.60" height="14.90" fill="#000"/>
<rect x="412.60" y="1324.40" width="27.80" height="12.10" fill="#5a5a5a" stroke="#000" stroke-width="2.8"/>
<text transform="translate(458.70 1314.00) scale(0.2201 0.2386)" font-size="100" stroke="#000" stroke-linejoin="round" xml:space="preserve"><tspan font-weight="normal" stroke-width="3.49">CON</tspan></text>
<text transform="translate(458.90 1337.60) scale(0.2202 0.2429)" font-size="100" stroke="#000" stroke-linejoin="round" xml:space="preserve"><tspan font-weight="normal" stroke-width="3.46">CHQ</tspan></text>
</svg>
</body></html>
